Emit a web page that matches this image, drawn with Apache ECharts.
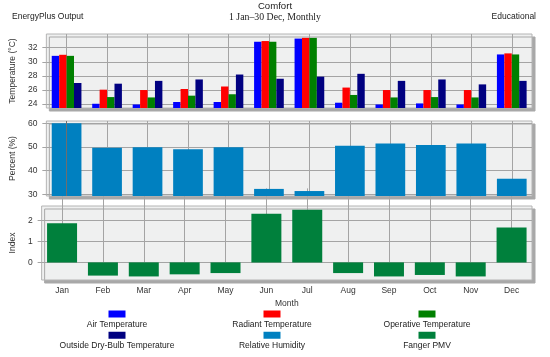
<!DOCTYPE html>
<html>
<head>
<meta charset="utf-8">
<script src="https://cdn.jsdelivr.net/npm/echarts@6/dist/echarts.min.js"></script>
<style>html,body{margin:0;padding:0;background:#fff}#c{width:550px;height:357px}</style>
</head>
<body>
<div id="c"></div>
<script>
var months = ['Jan','Feb','Mar','Apr','May','Jun','Jul','Aug','Sep','Oct','Nov','Dec'];
var airTemp = [30.85, 24.05, 23.95, 24.3, 24.3, 32.85, 33.3, 24.2, 23.95, 24.1, 23.95, 31.05];
var radiantTemp = [31.0, 26.05, 26.0, 26.15, 26.5, 32.95, 33.4, 26.35, 26.0, 26.0, 26.0, 31.2];
var operativeTemp = [30.85, 25.0, 24.95, 25.2, 25.4, 32.85, 33.4, 25.3, 24.95, 25.0, 24.95, 31.05];
var outsideTemp = [27.0, 26.9, 27.3, 27.5, 28.2, 27.6, 27.9, 28.3, 27.3, 27.5, 26.8, 27.3];
var relHumidity = [60.0, 49.7, 49.9, 49.1, 49.9, 32.3, 31.4, 50.5, 51.5, 50.9, 51.5, 36.6];
var fangerPMV = [1.87, -0.63, -0.67, -0.57, -0.51, 2.32, 2.51, -0.51, -0.67, -0.6, -0.67, 1.67];
var tempTicks = [24, 26, 28, 30, 32];
var rhTicks = [30, 40, 50, 60];
var pmvTicks = [0, 1, 2];
var names = ['Air Temperature','Radiant Temperature','Operative Temperature','Outside Dry-Bulb Temperature','Relative Humidity','Fanger PMV'];
var colors = ['#0000ff','#ff0000','#008000','#000080','#0080c0','#00803c'];

var FONT = 'Liberation Sans';
var gridBase = {show:true, left:41, right:18, backgroundColor:'#eff0f0', borderColor:'#b4b4b4', borderWidth:1,
  shadowColor:'#a8a8a8', shadowOffsetX:3, shadowOffsetY:3, shadowBlur:0};
function g(top, h){ var o = {}; for (var k in gridBase) o[k]=gridBase[k]; o.top=top; o.height=h; return o; }

function xAx(idx, h, showLabels){
  return {type:'category', gridIndex:idx, data:months, boundaryGap:true,
    axisLine:{show:false},
    axisTick:{show:true, alignWithLabel:true, inside:true, length:h, interval:0, lineStyle:{color:'#a4a4a4'}},
    axisLabel:{show:showLabels, interval:0, margin:6, fontSize:8.5, fontFamily:FONT, color:'#333'},
    splitLine:{show:false},
    name: showLabels ? 'Month' : '', nameLocation:'middle', nameGap:19,
    nameTextStyle:{fontSize:8.5, fontFamily:FONT, color:'#333'}};
}
function yAx(idx, min, max, ticks, name, gap){
  return {type:'value', gridIndex:idx, min:min, max:max,
    axisLine:{show:false},
    axisTick:{show:true, length:4, customValues:ticks, lineStyle:{color:'#a4a4a4'}},
    axisLabel:{customValues:ticks, margin:9, fontSize:8.5, fontFamily:FONT, color:'#333'},
    splitLine:{show:true, lineStyle:{color:'#a4a4a4'}},
    name:name, nameLocation:'middle', nameRotate:90, nameGap:gap,
    nameTextStyle:{fontSize:8.5, fontFamily:FONT, color:'#333'}};
}

var rich = {n:{width:150, align:'center', lineHeight:11.5, fontSize:8.5, fontFamily:FONT, color:'#222'}};
colors.forEach(function(c,i){ rich['i'+i] = {width:17, height:7, lineHeight:10, backgroundColor:c, align:'center'}; });

var barGap = '26.6%';
var option = {
  animation:false,
  backgroundColor:'#fff',
  title:[
    {text:'Comfort', left:'center', top:1, textStyle:{fontSize:9.6, fontWeight:'normal', fontFamily:FONT, color:'#222'}, padding:0},
    {text:'1 Jan\u201330 Dec, Monthly', left:'center', top:12, textStyle:{fontSize:9.8, fontWeight:'normal', fontFamily:'Liberation Serif', color:'#222'}, padding:0},
    {text:'EnergyPlus Output', left:12, top:12, textStyle:{fontSize:8.5, fontWeight:'normal', fontFamily:FONT, color:'#222'}, padding:0},
    {text:'Educational', right:14, top:12, textStyle:{fontSize:8.5, fontWeight:'normal', fontFamily:FONT, color:'#222'}, padding:0}
  ],
  legend:{left:37, top:308, width:470, padding:0, itemGap:0, itemWidth:0, itemHeight:0,
    data:names, selectedMode:false,
    formatter:function(name){ return '{i'+names.indexOf(name)+'|}\n{n|'+name+'}'; },
    textStyle:{rich:rich}},
  grid:[g(34,74), g(121,75), g(206,74)],
  xAxis:[xAx(0,74,false), xAx(1,75,false), xAx(2,74,true)],
  yAxis:[yAx(0,23.45,33.95,tempTicks,'Temperature (\u00b0C)',21),
         yAx(1,29.3,61,rhTicks,'Percent (%)',21),
         yAx(2,-0.84,2.69,pmvTicks,'Index',21)],
  series:[
    {name:names[0], type:'bar', xAxisIndex:0, yAxisIndex:0, data:airTemp, barGap:'0%', barCategoryGap:barGap, itemStyle:{color:colors[0]}},
    {name:names[1], type:'bar', xAxisIndex:0, yAxisIndex:0, data:radiantTemp, barGap:'0%', barCategoryGap:barGap, itemStyle:{color:colors[1]}},
    {name:names[2], type:'bar', xAxisIndex:0, yAxisIndex:0, data:operativeTemp, barGap:'0%', barCategoryGap:barGap, itemStyle:{color:colors[2]}},
    {name:names[3], type:'bar', xAxisIndex:0, yAxisIndex:0, data:outsideTemp, barGap:'0%', barCategoryGap:barGap, itemStyle:{color:colors[3]}},
    {name:names[4], type:'bar', xAxisIndex:1, yAxisIndex:1, data:relHumidity, barCategoryGap:barGap, itemStyle:{color:colors[4]},
      markLine:{silent:true, symbol:'none', label:{show:false}, lineStyle:{color:'#6e6e6e', type:'solid', width:1}, data:[{xAxis:'Jan'}]}},
    {name:names[5], type:'bar', xAxisIndex:2, yAxisIndex:2, data:fangerPMV, barCategoryGap:barGap, itemStyle:{color:colors[5]}}
  ]
};
var chart = echarts.init(document.getElementById('c'), null, {renderer:'canvas'});
chart.setOption(option);
</script>
</body>
</html>
